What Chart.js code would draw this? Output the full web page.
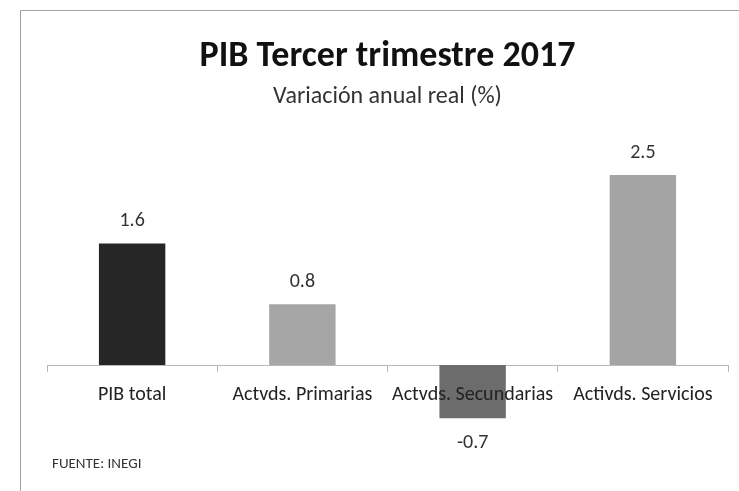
<!DOCTYPE html>
<html>
<head>
<meta charset="utf-8">
<script src="https://cdn.jsdelivr.net/npm/chart.js@4"></script>
<style>
html,body{margin:0;padding:0;background:#fff;}
#wrap{position:relative;width:739px;height:491px;}
</style>
</head>
<body>
<div id="wrap"><canvas id="c" width="739" height="491"></canvas></div>
<script>
const categories = ["PIB total", "Actvds. Primarias", "Actvds. Secundarias", "Activds. Servicios"];
const values = [1.6, 0.8, -0.7, 2.5];
const valueLabels = ["1.6", "0.8", "-0.7", "2.5"];
const barColors = ["#262626", "#a6a6a6", "#6c6c6c", "#a4a4a4"];
const titleText = "PIB Tercer trimestre 2017";
const subtitleText = "Variación anual real (%)";
const sourceText = "FUENTE: INEGI";

const FONT = "Carlito, 'Liberation Sans', Arial, sans-serif";

const frameAndNotes = {
  id: 'frameAndNotes',
  beforeDraw(chart) {
    const ctx = chart.ctx;
    ctx.save();
    ctx.fillStyle = '#fff';
    ctx.fillRect(0, 0, chart.width, chart.height);
    ctx.strokeStyle = '#a0a0a0';
    ctx.lineWidth = 1;
    ctx.beginPath();
    ctx.moveTo(20.5, chart.height);
    ctx.lineTo(20.5, 10.5);
    ctx.lineTo(chart.width, 10.5);
    ctx.stroke();
    ctx.restore();
  },
  afterDraw(chart) {
    const ctx = chart.ctx;
    ctx.save();
    ctx.fillStyle = '#333';
    ctx.font = "15px " + FONT;
    ctx.textBaseline = 'middle';
    ctx.textAlign = 'left';
    ctx.fillText(sourceText, 52, 464);
    ctx.restore();
  }
};

const valueLabelPlugin = {
  id: 'valueLabelPlugin',
  afterDatasetsDraw(chart) {
    const ctx = chart.ctx;
    const meta = chart.getDatasetMeta(0);
    ctx.save();
    ctx.fillStyle = '#333';
    ctx.font = "20px " + FONT;
    ctx.textAlign = 'center';
    ctx.textBaseline = 'middle';
    meta.data.forEach((bar, i) => {
      const v = values[i];
      const y = v >= 0 ? bar.y - 22 : bar.y + 25;
      ctx.fillText(valueLabels[i], bar.x, y);
    });
    ctx.restore();
  }
};

new Chart(document.getElementById('c'), {
  type: 'bar',
  data: {
    labels: categories,
    datasets: [{
      data: values,
      backgroundColor: barColors,
      borderWidth: 0,
      categoryPercentage: 1,
      barPercentage: 0.39
    }]
  },
  options: {
    responsive: false,
    animation: false,
    devicePixelRatio: 1,
    layout: { padding: { left: 47, right: 11, top: 0, bottom: 50 } },
    plugins: {
      legend: { display: false },
      tooltip: { enabled: false },
      title: {
        display: true,
        text: titleText,
        color: '#111',
        font: { family: FONT, size: 36, weight: 'bold', lineHeight: 1.2 },
        padding: { top: 35, bottom: 4 }
      },
      subtitle: {
        display: true,
        text: subtitleText,
        color: '#333',
        font: { family: FONT, size: 24, lineHeight: 1.2 },
        padding: { top: 0, bottom: 26 }
      }
    },
    scales: {
      y: {
        display: false,
        min: -1,
        max: 3
      },
      x: {
        position: { y: 0 },
        offset: true,
        grid: {
          offset: true,
          drawOnChartArea: false,
          drawTicks: true,
          tickLength: 6,
          color: '#b8b8b8'
        },
        border: { display: true, color: '#b8b8b8' },
        ticks: {
          z: 1,
          color: '#222',
          font: { family: FONT, size: 20 },
          padding: 12,
          maxRotation: 0,
          autoSkip: false
        }
      }
    }
  },
  plugins: [frameAndNotes, valueLabelPlugin]
});
</script>
</body>
</html>
